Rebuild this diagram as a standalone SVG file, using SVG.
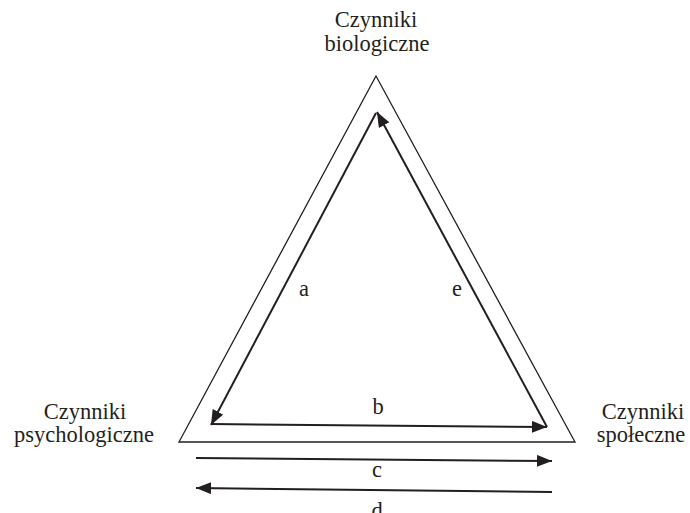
<svg xmlns="http://www.w3.org/2000/svg" width="690" height="513" viewBox="0 0 690 513">
<style>
text{font-family:"Liberation Serif","Times New Roman",serif;font-size:22.5px;fill:#231f20;text-anchor:middle}
.tri{fill:none;stroke:#231f20;stroke-width:1.3}
.arr{fill:none;stroke:#231f20;stroke-width:2;marker-end:url(#ah)}
</style>
<defs>
<marker id="ah" markerUnits="userSpaceOnUse" markerWidth="16" markerHeight="12" refX="15" refY="6" orient="auto">
<path d="M0,0 L15,6 L0,12 z" fill="#231f20"/>
</marker>
</defs>
<g id="triangle">
<polygon class="tri" points="376,76 179,442 575,442"/>
</g>
<g id="bio">
<text x="376" y="27">Czynniki</text>
<text x="377" y="51">biologiczne</text>
</g>
<g id="psych">
<text x="85" y="419">Czynniki</text>
<text x="84" y="442">psychologiczne</text>
</g>
<g id="spol">
<text x="643" y="419">Czynniki</text>
<text x="641" y="442">społeczne</text>
</g>
<g id="connectors">
<line class="arr" x1="376" y1="113" x2="211" y2="425"/>
<line class="arr" x1="211" y1="424" x2="547" y2="427"/>
<line class="arr" x1="547" y1="427" x2="377" y2="112"/>
<line class="arr" x1="196" y1="458" x2="552" y2="461"/>
<line class="arr" x1="552" y1="492" x2="196" y2="488"/>
<text x="304" y="296">a</text>
<text x="457" y="296">e</text>
<text x="378" y="414">b</text>
<text x="377" y="477">c</text>
<text x="377" y="518">d</text>
</g>
</svg>
